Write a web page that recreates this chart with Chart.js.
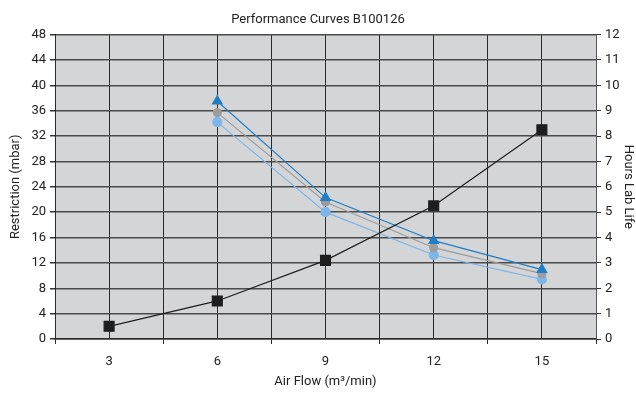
<!DOCTYPE html>
<html>
<head>
<meta charset="utf-8">
<script src="https://cdn.jsdelivr.net/npm/chart.js@4/dist/chart.umd.min.js"></script>
<style>
html,body{margin:0;padding:0;background:#fff;}
#wrap{width:636px;height:393px;}
</style>
</head>
<body>
<div id="wrap"><canvas id="c" width="636" height="393"></canvas></div>
<script>
const categories = [3, 6, 9, 12, 15];
const hoursLabLife = [0.5, 1.5, 3.1, 5.25, 8.25];
const restrictionHigh = [null, 37.5, 22.3, 15.5, 10.95];
const restrictionMid = [null, 35.7, 21.6, 14.4, 10.3];
const restrictionLow = [null, 34.2, 20.0, 13.25, 9.4];
const titleText = 'Performance Curves B100126';
const xTitle = 'Air Flow (m³/min)';
const yLeftTitle = 'Restriction (mbar)';
const yRightTitle = 'Hours Lab Life';

const FONT = "Roboto, 'Liberation Sans', sans-serif";

function pts(arr){ return categories.map((c,i)=>({x:c,y:arr[i]})).filter(p=>p.y!==null); }

const bgPlugin = {
  id:'bg',
  beforeDraw(chart){
    const {ctx, chartArea:a} = chart;
    ctx.save();
    ctx.fillStyle = '#d4d5d7';
    ctx.fillRect(a.left, a.top, a.right-a.left, a.bottom-a.top);
    ctx.restore();
  }
};

new Chart(document.getElementById('c'), {
  type:'line',
  data:{
    datasets:[
      {label:'Hours', data:pts(hoursLabLife), yAxisID:'y1', borderColor:'#1e1e1e', backgroundColor:'#1e1e1e', borderWidth:1.2, pointStyle:'rect', pointRadius:7, pointHoverRadius:7, order:0},
      {label:'High', data:pts(restrictionHigh), yAxisID:'y', borderColor:'#1f7ec6', backgroundColor:'#1f7ec6', borderWidth:1.2, pointStyle:'triangle', pointRadius:5.5, order:1},
      {label:'Mid', data:pts(restrictionMid), yAxisID:'y', borderColor:'#9c9c9c', backgroundColor:'#9c9c9c', borderWidth:1.2, pointStyle:'circle', pointRadius:4, order:2},
      {label:'Low', data:pts(restrictionLow), yAxisID:'y', borderColor:'#7db6e8', backgroundColor:'#7db6e8', borderWidth:1.2, pointStyle:'circle', pointRadius:4.5, order:3}
    ]
  },
  options:{
    responsive:false,
    animation:false,
    devicePixelRatio:1,
    layout:{padding:{left:0,right:0,top:0,bottom:0}},
    plugins:{
      legend:{display:false},
      tooltip:{enabled:false},
      title:{display:true, text:titleText, color:'#222', font:{family:FONT, size:13, weight:'normal'}, padding:{top:12,bottom:7}}
    },
    scales:{
      x:{
        type:'linear', min:1.5, max:16.5,
        afterFit(s){ s.height = 54; },
        ticks:{stepSize:1.5, autoSkip:false, maxRotation:0, color:'#222', font:{family:FONT, size:13}, padding:10,
          callback(v){ return Math.abs(v%3)<1e-6 ? String(v) : ''; }},
        grid:{color:'#2a2a2a', lineWidth:1, tickLength:5,
          tickColor(ctx){ return (ctx.tick && Math.abs(ctx.tick.value%3)<1e-6) ? 'rgba(0,0,0,0)' : '#2a2a2a'; }},
        border:{color:'#2a2a2a', width:1.5},
        title:{display:true, text:xTitle, color:'#222', font:{family:FONT, size:13}, padding:{top:0,bottom:3}}
      },
      y:{
        position:'left', min:0, max:48,
        afterFit(s){ s.width = 55; },
        ticks:{stepSize:4, color:'#222', font:{family:FONT, size:13}, padding:4},
        grid:{color:'#4a4a4a', lineWidth:1.5, tickLength:5, tickColor:'#333'},
        border:{color:'#2a2a2a', width:1},
        title:{display:true, text:yLeftTitle, color:'#222', font:{family:FONT, size:13}, padding:{top:8,bottom:0}}
      },
      y1:{
        position:'right', min:0, max:12,
        afterFit(s){ s.width = 40; },
        ticks:{stepSize:1, color:'#222', font:{family:FONT, size:13}, padding:4},
        grid:{drawOnChartArea:false, tickLength:5, tickColor:'#333'},
        border:{color:'#555', width:1},
        title:{display:true, text:yRightTitle, color:'#222', font:{family:FONT, size:13}, padding:{top:0,bottom:2}}
      }
    }
  },
  plugins:[bgPlugin]
});
</script>
</body>
</html>
